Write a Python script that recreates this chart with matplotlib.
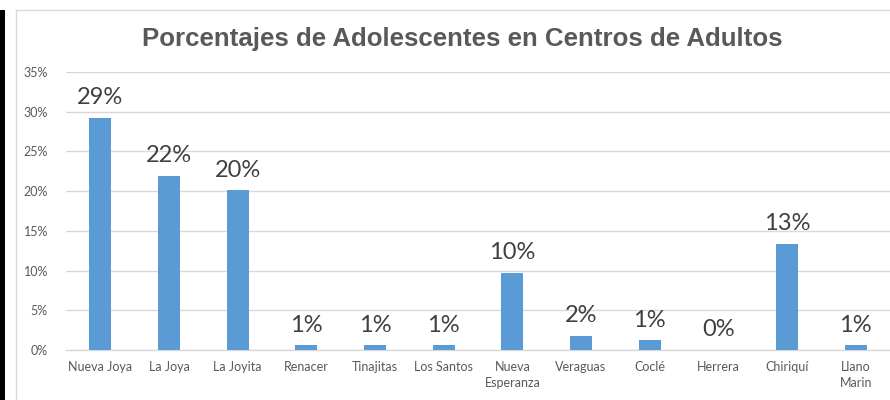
import matplotlib
matplotlib.use("Agg")
import matplotlib.pyplot as plt
from matplotlib.patches import Rectangle
from matplotlib.lines import Line2D
from matplotlib.ticker import PercentFormatter, MultipleLocator

categories = ["Nueva Joya", "La Joya", "La Joyita", "Renacer", "Tinajitas", "Los Santos",
              "Nueva\nEsperanza", "Veraguas", "Coclé", "Herrera", "Chiriquí", "Llano\nMarin"]
values = [0.292, 0.219, 0.201, 0.006, 0.006, 0.006, 0.097, 0.018, 0.012, 0.0, 0.134, 0.006]
title = "Porcentajes de Adolescentes en Centros de Adultos"

W, H = 890, 400
fig = plt.figure(figsize=(W / 100, H / 100), dpi=100)
fig.patch.set_facecolor("white")

# left black strip and chart border
fig.add_artist(Rectangle((0, 0), 5 / W, 1 - 10 / H, transform=fig.transFigure,
                         facecolor="black", edgecolor="none"))
fig.add_artist(Line2D([16 / W, 16 / W], [0, 1 - 10 / H], transform=fig.transFigure,
                      color="#D9D9D9", lw=1.0))
fig.add_artist(Line2D([16 / W, 1], [1 - 10 / H, 1 - 10 / H], transform=fig.transFigure,
                      color="#D9D9D9", lw=1.0))

ax = fig.add_axes([66 / W, 1 - 350 / H, 1 - 66 / W, (350 - 72) / H])
x = list(range(len(categories)))
bars = ax.bar(x, values, width=0.32, color="#5B9BD5", zorder=3)
ax.set_xlim(-0.5, len(categories) - 0.5)
ax.set_ylim(0, 0.35)
ax.yaxis.set_major_locator(MultipleLocator(0.05))
ax.yaxis.set_major_formatter(PercentFormatter(1.0, decimals=0))
ax.grid(axis="y", color="#D9D9D9", lw=1.0, zorder=0)
for s in ["top", "right", "left"]:
    ax.spines[s].set_visible(False)
ax.spines["bottom"].set_color("#D9D9D9")
ax.spines["bottom"].set_linewidth(1.0)
ax.set_xticks(x)
ax.set_xticklabels(categories, fontfamily="Lato", fontsize=9, color="#595959", linespacing=1.4)
ax.tick_params(axis="x", length=0, pad=8, labelcolor="#595959")
ax.tick_params(axis="y", length=0, pad=13, labelcolor="#595959", labelsize=9)
for lbl in ax.get_yticklabels():
    lbl.set_fontfamily("Lato")
ax.set_facecolor("none")

for xi, v in zip(x, values):
    ax.annotate(f"{v:.0%}", (xi, v), xytext=(0, 7), textcoords="offset points",
                ha="center", va="bottom", fontfamily="Lato", fontweight="normal",
                fontsize=17, color="#404040")

fig.text(462 / W, 1 - 39 / H, title, ha="center", va="center",
         fontfamily="Liberation Sans", fontweight="bold", fontsize=18.6, color="#595959")

fig.savefig("out.png", dpi=100)
